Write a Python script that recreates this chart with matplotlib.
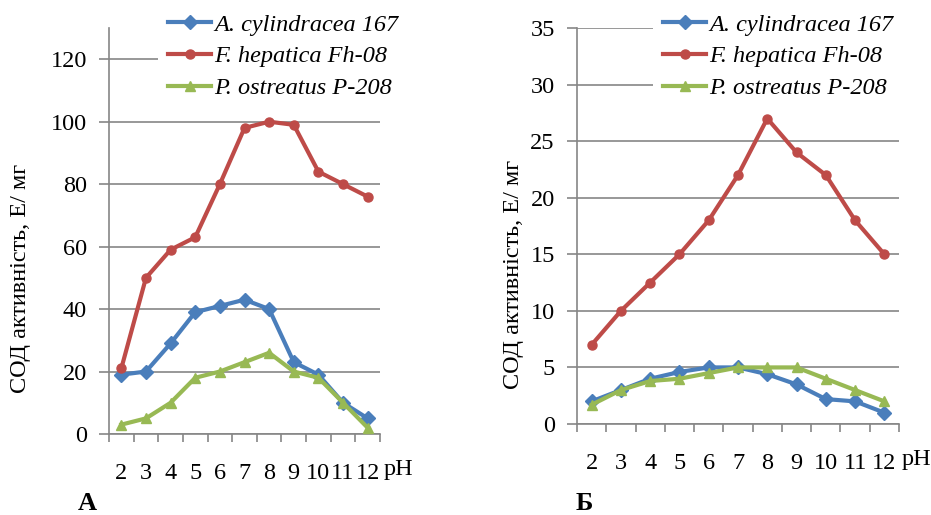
import matplotlib
matplotlib.use("Agg")
import matplotlib.pyplot as plt
import numpy as np

plt.rcParams['font.family'] = ['Liberation Serif', 'DejaVu Serif']

ph = ['2', '3', '4', '5', '6', '7', '8', '9', '10', '11', '12']
series_names = ['A. cylindracea 167', 'F. hepatica Fh-08', 'P. ostreatus P-208']

a_cyl_A = [19, 20, 29, 39, 41, 43, 40, 23, 19, 10, 5]
f_hep_A = [21, 50, 59, 63, 80, 98, 100, 99, 84, 80, 76]
p_ost_A = [3, 5, 10, 18, 20, 23, 26, 20, 18, 10, 2]

a_cyl_B = [2.0, 3.0, 4.0, 4.6, 5.0, 5.0, 4.4, 3.5, 2.2, 2.0, 1.0]
f_hep_B = [7, 10, 12.5, 15, 18, 22, 27, 24, 22, 18, 15]
p_ost_B = [1.7, 3.0, 3.8, 4.0, 4.5, 5.0, 5.0, 5.0, 4.0, 3.0, 2.0]

colors = ['#4A7EBB', '#BE4B48', '#98B954']
markers = ['D', 'o', '^']
msizes = [7.5, 6.5, 6.5]

GRAY = '#868686'
FS = 17.5

fig = plt.figure(figsize=(9.31, 5.15), dpi=100)


def panel(rect, data, ymax, ystep, ylabel_xy, legend_xy, ph_xy, letter, letter_xy, xpad):
    ax = fig.add_axes(rect)
    x = np.arange(len(ph))
    for vals, c, m, ms, name in zip(data, colors, markers, msizes, series_names):
        ax.plot(x, vals, color=c, lw=3.0, marker=m, ms=ms, label=name,
                markeredgecolor=c, zorder=3, clip_on=False)
    ax.set_xlim(-0.5, len(ph) - 0.5)
    ax.set_ylim(0, ymax)
    ax.set_yticks(np.arange(0, ymax + 0.1, ystep))
    ax.yaxis.grid(True, color=GRAY, lw=1.2)
    ax.set_axisbelow(True)
    for s in ['top', 'right']:
        ax.spines[s].set_visible(False)
    for s in ['left', 'bottom']:
        ax.spines[s].set_color(GRAY)
        ax.spines[s].set_linewidth(1.2)
    # category boundaries as major ticks (no labels), centres as labelled minor ticks
    ax.set_xticks(np.arange(-0.5, len(ph), 1.0))
    ax.set_xticklabels([])
    ax.set_xticks(x, minor=True)
    ax.set_xticklabels(ph, minor=True, fontsize=FS)
    ax.tick_params(axis='x', which='major', direction='out', length=6, color=GRAY, width=1.2)
    ax.tick_params(axis='x', which='minor', length=0, pad=xpad)
    ax.tick_params(axis='y', direction='out', length=7, color=GRAY, width=1.2,
                   labelsize=FS, pad=9)
    fig.text(ylabel_xy[0], ylabel_xy[1], 'СОД активність, Е/ мг',
             rotation=90, ha='center', va='center', fontsize=FS)
    leg = ax.legend(loc='upper left', bbox_to_anchor=legend_xy,
                    bbox_transform=fig.transFigure, frameon=True, fancybox=False,
                    framealpha=1, facecolor='white', edgecolor='none',
                    prop={'family': 'Liberation Serif', 'style': 'italic', 'size': FS},
                    handlelength=1.8, handletextpad=0.12, labelspacing=0.4,
                    borderpad=0.4, borderaxespad=0)
    leg.set_zorder(5)
    fig.text(ph_xy[0], ph_xy[1], 'pH', ha='center', va='center', fontsize=FS)
    fig.text(letter_xy[0], letter_xy[1], letter, ha='center', va='center',
             fontsize=19, fontweight='bold')
    return ax


W, H = 931, 515

panel([109 / W, 1 - 434 / H, (380 - 109) / W, (434 - 28) / H],
      [a_cyl_A, f_hep_A, p_ost_A], 130, 20, (21 / W, 1 - 278 / H),
      (158 / W, 1 - 4 / H), (398 / W, 1 - 469 / H), 'А',
      (87 / W, 1 - 503 / H), 21)

panel([577 / W, 1 - 424 / H, (899 - 577) / W, (424 - 28) / H],
      [a_cyl_B, f_hep_B, p_ost_B], 35, 5, (513 / W, 1 - 274 / H),
      (653 / W, 1 - 4 / H), (916 / W, 1 - 459 / H), 'Б',
      (584 / W, 1 - 503 / H), 21)

fig.savefig('out.png', dpi=100)
